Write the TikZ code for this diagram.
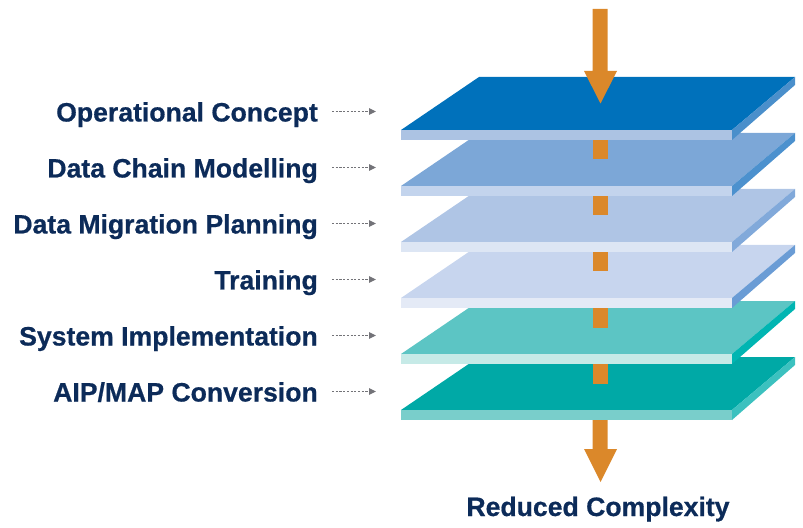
\documentclass[tikz,border=0pt]{standalone}
\usepackage{fontspec}
\setmainfont{Liberation Sans}
\newfontfamily\lblfont{Liberation Sans}[UprightFont=*-Bold, FakeBold=0.6]
\usetikzlibrary{arrows.meta}
\definecolor{navy}{RGB}{12,43,89}
\definecolor{orng}{RGB}{219,136,42}
\definecolor{dotgray}{RGB}{115,115,120}
\definecolor{topA}{HTML}{0071BB}\definecolor{stripA}{HTML}{ACC3E3}\definecolor{sideA}{HTML}{4A8FCB}
\definecolor{topB}{HTML}{7CA7D7}\definecolor{stripB}{HTML}{C3D4ED}\definecolor{sideB}{HTML}{4C91CE}
\definecolor{topC}{HTML}{AFC5E5}\definecolor{stripC}{HTML}{DDE6F4}\definecolor{sideC}{HTML}{81A9DA}
\definecolor{topD}{HTML}{C7D5EE}\definecolor{stripD}{HTML}{E4EAF6}\definecolor{sideD}{HTML}{6A9CD5}
\definecolor{topE}{HTML}{5CC5C4}\definecolor{stripE}{HTML}{C6EAE7}\definecolor{sideE}{HTML}{00B5B2}
\definecolor{topF}{HTML}{00A9A6}\definecolor{stripF}{HTML}{79CECB}\definecolor{sideF}{HTML}{3CC1BF}
\tikzset{
  lbl/.style={font=\lblfont\fontsize{26.6bp}{30bp}\selectfont, text=navy, inner sep=0pt},
  dotarrow/.style={draw=dotgray, line width=1bp, dash pattern=on 2.2bp off 1.5bp, -{Triangle[length=7bp,width=6.5bp]}},
  rod/.style={fill=orng, draw=none},
}
\begin{document}
\begin{tikzpicture}[x=1bp,y=-1bp]
\useasboundingbox (0,0) rectangle (803,528);
% plates from bottom to top
\foreach \k/\c in {5/F,4/E,3/D,2/C,1/B,0/A}{
  \pgfmathsetmacro{\yf}{130+56*\k}
  \pgfmathsetmacro{\yb}{\yf-53}
  \pgfmathsetmacro{\ys}{\yf+10}
  \pgfmathsetmacro{\ybs}{\yb+8}
  \pgfmathsetmacro{\yc}{(\yf+\yb)/2}
  \fill[top\c] (401,\yf) -- (732,\yf) -- (795,\yb) -- (479,\yb) -- cycle;
  \fill[strip\c] (401,\yf) rectangle (732,\ys);
  \fill[side\c] (732,\yf) -- (795,\yb) -- (795,\ybs) -- (732,\ys) -- cycle;
  \ifnum\k>0
    \pgfmathsetmacro{\yp}{130+56*(\k-1)+10}
    \fill[rod] (592.5,\yp) rectangle (607.5,\yc);
  \fi
}
% top arrow
\fill[rod] (592.5,9) -- (607.5,9) -- (607.5,71) -- (617,71) -- (600.5,103.5) -- (584,71) -- (592.5,71) -- cycle;
% bottom arrow
\fill[rod] (592.5,420) -- (607.5,420) -- (607.5,449) -- (617,449) -- (600.5,482) -- (584,449) -- (592.5,449) -- cycle;
% labels
\foreach \k/\t in {0/{Operational Concept},1/{Data Chain Modelling},2/{Data Migration Planning},3/{Training},4/{System Implementation},5/{AIP/MAP Conversion}}{
  \node[lbl, anchor=base east] (l\k) at (318,{121.5+56*\k}) {\t};
  \coordinate (a\k) at (332,{111.5+56*\k});
  \coordinate (b\k) at (376,{111.5+56*\k});
  \draw[dotarrow] (a\k) -- (b\k);
}
\node[lbl, anchor=base] (rc) at (598,516) {Reduced Complexity};
\end{tikzpicture}
\end{document}
